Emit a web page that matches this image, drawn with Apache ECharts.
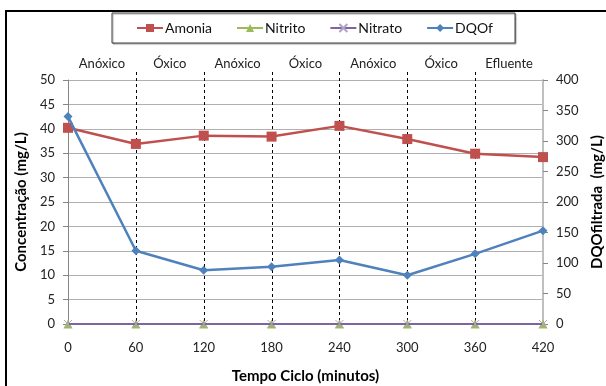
<!DOCTYPE html>
<html>
<head>
<meta charset="utf-8">
<script src="https://cdn.jsdelivr.net/npm/echarts@6/dist/echarts.min.js"></script>
<style>
html,body{margin:0;padding:0;background:#fff;}
#c{width:606px;height:386px;}
</style>
</head>
<body>
<div id="c"></div>
<script>
const times = [0, 60, 120, 180, 240, 300, 360, 420];
const phases = ['Anóxico', 'Óxico', 'Anóxico', 'Óxico', 'Anóxico', 'Óxico', 'Efluente'];
const amonia = [40.2, 36.9, 38.6, 38.4, 40.6, 37.9, 34.9, 34.2];
const nitrito = [0, 0, 0, 0, 0, 0, 0, 0];
const nitrato = [0, 0, 0, 0, 0, 0, 0, 0];
const dqof = [340, 120, 88, 94, 105, 80, 115, 153];
const leftTicks = {min: 0, max: 50, interval: 5};
const rightTicks = {min: 0, max: 400, interval: 50};

const FONT = 'Lato';
const pair = arr => times.map((t, i) => [t, arr[i]]);

const chart = echarts.init(document.getElementById('c'), null, {renderer: 'canvas'});
const option = {
  animation: false,
  backgroundColor: '#fff',
  textStyle: {fontFamily: FONT},
  legend: {
    left: 112, top: 13,
    padding: [8, 22, 8, 24],
    itemGap: 24, itemWidth: 26, itemHeight: 10,
    borderColor: '#404040', borderWidth: 1,
    backgroundColor: '#fff',
    shadowColor: 'rgba(0,0,0,0.35)', shadowOffsetX: 1, shadowOffsetY: 1, shadowBlur: 1,
    textStyle: {fontFamily: FONT, fontSize: 14, color: '#111', padding: [0, 0, 0, -3]},
    data: ['Amonia', 'Nitrito', 'Nitrato', 'DQOf']
  },
  grid: {left: 68, right: 63, top: 80, bottom: 62, outerBoundsMode: 'none', containLabel: false},
  xAxis: [{
    type: 'value', min: 0, max: 420, interval: 60,
    name: 'Tempo Ciclo (minutos)', nameLocation: 'middle', nameGap: 45,
    nameTextStyle: {fontFamily: FONT, fontSize: 15, fontWeight: 'bold', color: '#000'},
    axisLine: {show: true, lineStyle: {color: '#868686'}},
    axisTick: {show: false},
    splitLine: {show: false},
    axisLabel: {margin: 17, fontFamily: FONT, fontSize: 13, color: '#222'}
  }, {
    type: 'category', position: 'top', data: phases, boundaryGap: true,
    axisLine: {show: false}, axisTick: {show: false}, splitLine: {show: false},
    axisLabel: {margin: 10, fontFamily: FONT, fontSize: 13, color: '#222', interval: 0}
  }],
  yAxis: [{
    type: 'value', min: leftTicks.min, max: leftTicks.max, interval: leftTicks.interval,
    name: 'Concentração (mg/L)', nameLocation: 'middle', nameGap: 39,
    nameTextStyle: {fontFamily: FONT, fontSize: 15, fontWeight: 'bold', color: '#000'},
    axisLine: {show: true, lineStyle: {color: '#868686'}},
    axisTick: {show: true, length: 5, lineStyle: {color: '#868686'}},
    splitLine: {show: true, lineStyle: {color: '#b0b0b0'}},
    axisLabel: {margin: 13, fontFamily: FONT, fontSize: 13, color: '#222'}
  }, {
    type: 'value', min: rightTicks.min, max: rightTicks.max, interval: rightTicks.interval,
    name: 'DQOfiltrada  (mg/L)', nameLocation: 'middle', nameGap: 47,
    nameTextStyle: {fontFamily: FONT, fontSize: 15, fontWeight: 'bold', color: '#000'},
    axisLine: {show: true, lineStyle: {color: '#bfbfbf', width: 2}},
    axisTick: {show: true, length: 5, lineStyle: {color: '#868686'}},
    splitLine: {show: false},
    axisLabel: {margin: 13, fontFamily: FONT, fontSize: 13, color: '#222'}
  }],
  series: [{
    name: 'Amonia', type: 'line', xAxisIndex: 0, yAxisIndex: 0, data: pair(amonia),
    symbol: 'rect', symbolSize: 10, z: 3,
    lineStyle: {color: '#C0504D', width: 2.5},
    itemStyle: {color: '#C0504D'}
  }, {
    name: 'Nitrito', type: 'line', xAxisIndex: 0, yAxisIndex: 0, data: pair(nitrito),
    symbol: 'triangle', symbolSize: 9, z: 4,
    lineStyle: {color: '#9BBB59', width: 2},
    itemStyle: {color: '#9BBB59'}
  }, {
    name: 'Nitrato', type: 'line', xAxisIndex: 0, yAxisIndex: 0, data: pair(nitrato),
    symbol: 'path://M0,0L10,10M10,0L0,10', symbolSize: 8, z: 5,
    lineStyle: {color: '#8064A2', width: 2},
    itemStyle: {color: 'none', borderColor: '#B3A2C7', borderWidth: 1}
  }, {
    name: 'DQOf', type: 'line', xAxisIndex: 0, yAxisIndex: 1, data: pair(dqof),
    symbol: 'diamond', symbolSize: 9, z: 6,
    lineStyle: {color: '#4F81BD', width: 2.5},
    itemStyle: {color: '#4F81BD'}
  }]
};
chart.setOption(option);

// decorations derived from the axes: dashed phase separators, outer frame
const yTop = chart.convertToPixel({yAxisIndex: 0}, leftTicks.max);
const yBot = chart.convertToPixel({yAxisIndex: 0}, leftTicks.min);
const graphics = times.slice(1, times.length - 1).map(t => {
  const x = Math.round(chart.convertToPixel({xAxisIndex: 0}, t)) + 0.5;
  return {
    type: 'line', silent: true, z: 1,
    shape: {x1: x, y1: yTop - 8, x2: x, y2: yBot},
    style: {stroke: '#000', lineWidth: 1, lineDash: [3, 3]}
  };
});
graphics.push({
  type: 'rect', silent: true, z: 0,
  shape: {x: 6, y: 11, width: 640, height: 420},
  style: {fill: 'none', stroke: '#000', lineWidth: 2}
});
chart.setOption({graphic: graphics});
</script>
</body>
</html>
